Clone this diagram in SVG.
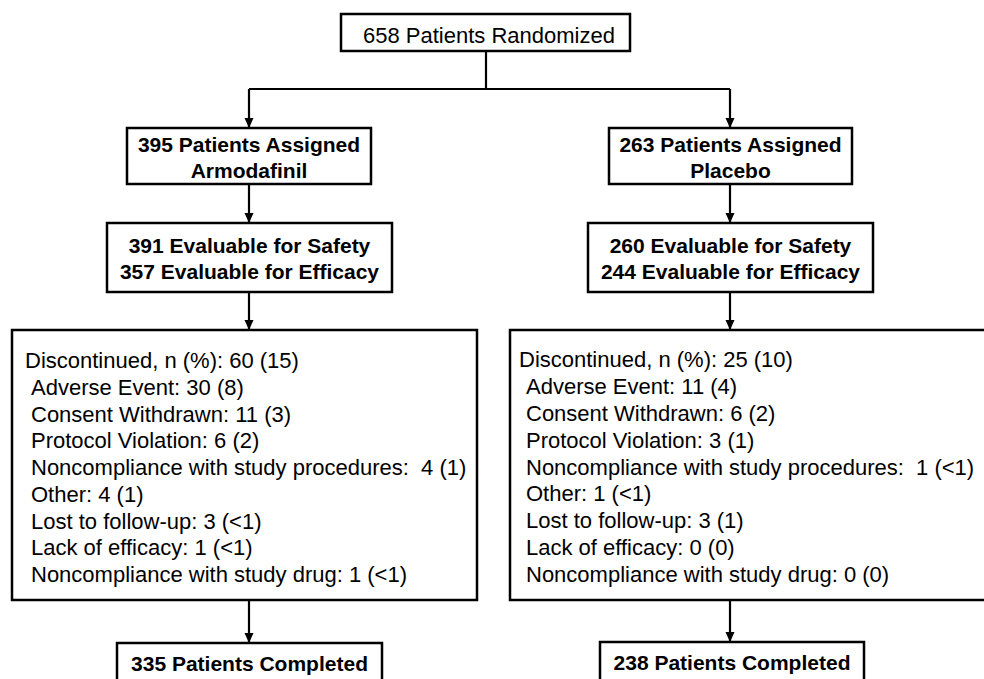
<svg xmlns="http://www.w3.org/2000/svg" width="984" height="679" viewBox="0 0 984 679">
<style>
.box{fill:#fff;stroke:#000;stroke-width:2.5}
.ln{fill:none;stroke:#000;stroke-width:2.2}
.t{font-family:"Liberation Sans",Arial,sans-serif;font-size:22px;fill:#000}
.b{font-family:"Liberation Sans",Arial,sans-serif;font-size:21px;font-weight:bold;fill:#000;text-anchor:middle}
.c{text-anchor:middle}
</style>
<defs>
<marker id="ah" markerUnits="userSpaceOnUse" markerWidth="12" markerHeight="12" viewBox="0 0 12 12" refX="10" refY="6" orient="auto">
<path d="M0,1.5 L10,6 L0,10.5 Z" fill="#000"/>
</marker>
</defs>
<rect width="984" height="679" fill="#fff"/>
<g id="connectors">
<path class="ln" d="M486,51 V89"/>
<path class="ln" d="M249,89 H730"/>
<path class="ln" d="M249,89 V128" marker-end="url(#ah)"/>
<path class="ln" d="M730,89 V128" marker-end="url(#ah)"/>
<path class="ln" d="M249,184 V223" marker-end="url(#ah)"/>
<path class="ln" d="M730,184 V223" marker-end="url(#ah)"/>
<path class="ln" d="M249,292 V330" marker-end="url(#ah)"/>
<path class="ln" d="M730,292 V330" marker-end="url(#ah)"/>
<path class="ln" d="M249,600 V643" marker-end="url(#ah)"/>
<path class="ln" d="M730,600 V642" marker-end="url(#ah)"/>
</g>
<g id="randomized">
<rect class="box" x="341" y="14" width="289" height="37"/>
<text class="t c" x="489" y="43">658 Patients Randomized</text>
</g>
<g id="assigned-armodafinil">
<rect class="box" x="127" y="128" width="244" height="56"/>
<text class="b" x="249" y="152">395 Patients Assigned</text>
<text class="b" x="249" y="178">Armodafinil</text>
</g>
<g id="assigned-placebo">
<rect class="box" x="609" y="128" width="243" height="56"/>
<text class="b" x="730.5" y="152">263 Patients Assigned</text>
<text class="b" x="730.5" y="178">Placebo</text>
</g>
<g id="evaluable-armodafinil">
<rect class="box" x="107" y="223" width="285" height="69"/>
<text class="b" x="249.5" y="253">391 Evaluable for Safety</text>
<text class="b" x="249.5" y="279">357 Evaluable for Efficacy</text>
</g>
<g id="evaluable-placebo">
<rect class="box" x="588" y="223" width="285" height="69"/>
<text class="b" x="730.5" y="253">260 Evaluable for Safety</text>
<text class="b" x="730.5" y="279">244 Evaluable for Efficacy</text>
</g>
<g id="discontinued-armodafinil">
<rect class="box" x="12" y="330" width="465" height="270"/>
<text class="t" x="25" y="368">Discontinued, n (%): 60 (15)</text>
<text class="t" x="31" y="395">Adverse Event: 30 (8)</text>
<text class="t" x="31" y="421.5">Consent Withdrawn: 11 (3)</text>
<text class="t" x="31" y="448">Protocol Violation: 6 (2)</text>
<text class="t" x="31" y="475" xml:space="preserve">Noncompliance with study procedures:  4 (1)</text>
<text class="t" x="31" y="502">Other: 4 (1)</text>
<text class="t" x="31" y="528.5">Lost to follow-up: 3 (&lt;1)</text>
<text class="t" x="31" y="555">Lack of efficacy: 1 (&lt;1)</text>
<text class="t" x="31" y="582">Noncompliance with study drug: 1 (&lt;1)</text>
</g>
<g id="discontinued-placebo">
<rect class="box" x="510" y="330" width="480" height="270"/>
<text class="t" x="519" y="367">Discontinued, n (%): 25 (10)</text>
<text class="t" x="526" y="394">Adverse Event: 11 (4)</text>
<text class="t" x="526" y="421">Consent Withdrawn: 6 (2)</text>
<text class="t" x="526" y="447.5">Protocol Violation: 3 (1)</text>
<text class="t" x="526" y="474.5" xml:space="preserve">Noncompliance with study procedures:  1 (&lt;1)</text>
<text class="t" x="526" y="501">Other: 1 (&lt;1)</text>
<text class="t" x="526" y="528">Lost to follow-up: 3 (1)</text>
<text class="t" x="526" y="555">Lack of efficacy: 0 (0)</text>
<text class="t" x="526" y="582">Noncompliance with study drug: 0 (0)</text>
</g>
<g id="completed-armodafinil">
<rect class="box" x="117" y="643" width="265" height="50"/>
<text class="b" x="249.5" y="671">335 Patients Completed</text>
</g>
<g id="completed-placebo">
<rect class="box" x="600" y="642" width="264" height="50"/>
<text class="b" x="732" y="670">238 Patients Completed</text>
</g>
</svg>
